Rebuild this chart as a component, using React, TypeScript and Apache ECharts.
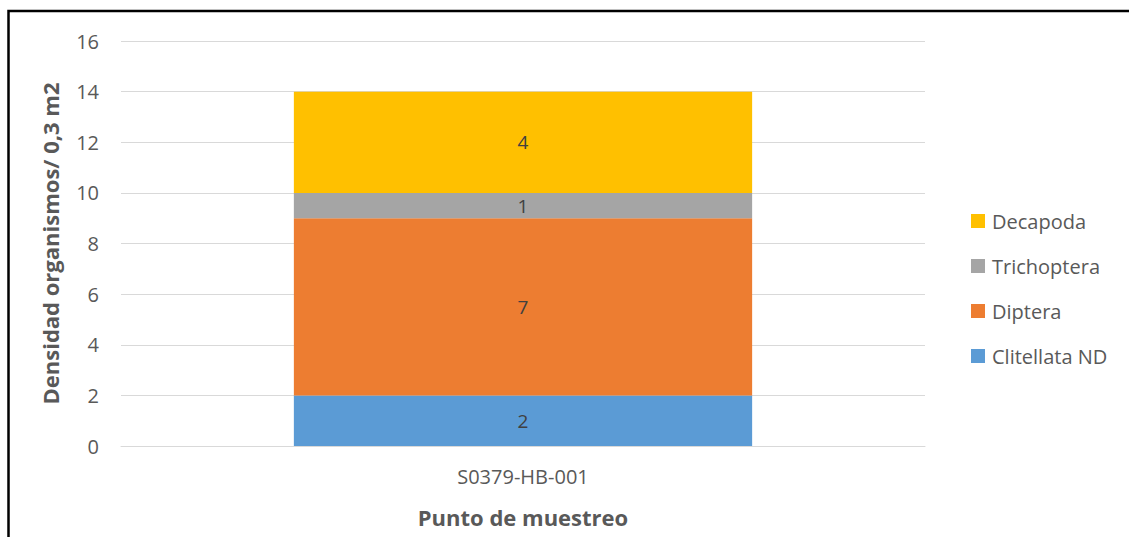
import React, { useEffect, useRef } from "react";
import * as echarts from "echarts";

const categories = ["S0379-HB-001"];
const clitellata = [2];
const diptera = [7];
const trichoptera = [1];
const decapoda = [4];
const yTicks = { min: 0, max: 16, interval: 2 };

const FONT = "'Open Sans', 'Noto Sans', sans-serif";

export default function App() {
  const ref = useRef<HTMLDivElement>(null);
  useEffect(() => {
    if (!ref.current) return;
    const chart = echarts.init(ref.current, undefined, { renderer: "svg" });
    const label = {
      show: true,
      position: "inside",
      color: "#404040",
      fontSize: 19,
      fontFamily: FONT,
    };
    const mk = (name: string, data: number[], color: string) => ({
      name,
      type: "bar",
      stack: "total",
      data,
      barWidth: "57%",
      itemStyle: { color },
      label,
      emphasis: { disabled: true },
    });
    chart.setOption({
      animation: false,
      textStyle: { fontFamily: FONT },
      graphic: [
        {
          type: "rect",
          shape: { x: 8.5, y: 11, width: 1200, height: 600 },
          style: { fill: "none", stroke: "#000", lineWidth: 2.5 },
          silent: true,
        },
      ],
      grid: { left: 121, right: 204, top: 41, bottom: 91, containLabel: false },
      legend: {
        orient: "vertical",
        left: 966,
        top: 206,
        itemWidth: 14,
        itemHeight: 14,
        itemGap: 25,
        icon: "rect",
        data: ["Decapoda", "Trichoptera", "Diptera", "Clitellata ND"],
        textStyle: {
          color: "#595959",
          fontSize: 20,
          fontFamily: FONT,
          padding: [0, 0, 0, 2],
        },
      },
      xAxis: {
        type: "category",
        data: categories,
        name: "Punto de muestreo",
        nameLocation: "middle",
        nameGap: 60,
        nameTextStyle: { color: "#595959", fontSize: 22, fontWeight: "bold", fontFamily: FONT },
        axisLine: { show: true, lineStyle: { color: "#d9d9d9", width: 1 } },
        axisTick: { show: false },
        axisLabel: { color: "#595959", fontSize: 20, margin: 20, fontFamily: FONT },
      },
      yAxis: {
        type: "value",
        min: yTicks.min,
        max: yTicks.max,
        interval: yTicks.interval,
        name: "Densidad organismos/ 0,3 m2",
        nameLocation: "middle",
        nameGap: 60,
        nameTextStyle: { color: "#595959", fontSize: 22, fontWeight: "bold", fontFamily: FONT },
        axisLine: { show: false },
        axisTick: { show: false },
        axisLabel: { color: "#595959", fontSize: 20, margin: 22, fontFamily: FONT },
        splitLine: { lineStyle: { color: "#d9d9d9", width: 1 } },
      },
      series: [
        mk("Clitellata ND", clitellata, "#5B9BD5"),
        mk("Diptera", diptera, "#ED7D31"),
        mk("Trichoptera", trichoptera, "#A5A5A5"),
        mk("Decapoda", decapoda, "#FFC000"),
      ],
    });
    return () => chart.dispose();
  }, []);
  return (
    <div
      ref={ref}
      style={{ position: "absolute", left: 0, top: 0, width: 1129, height: 537, background: "#fff" }}
    />
  );
}
